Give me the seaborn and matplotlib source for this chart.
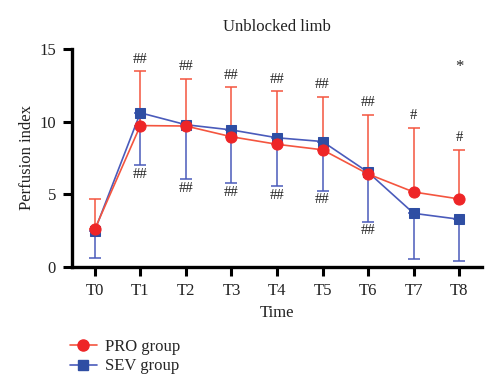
import matplotlib
matplotlib.use("Agg")
import matplotlib.pyplot as plt
import seaborn as sns
import pandas as pd
import numpy as np
from matplotlib.lines import Line2D

times = ["T0", "T1", "T2", "T3", "T4", "T5", "T6", "T7", "T8"]
pro_mean = [2.57, 9.72, 9.69, 8.95, 8.43, 8.05, 6.38, 5.14, 4.66]
pro_upper = [4.66, 13.45, 12.95, 12.35, 12.1, 11.7, 10.45, 9.55, 8.05]
sev_mean = [2.48, 10.6, 9.78, 9.42, 8.88, 8.62, 6.5, 3.67, 3.26]
sev_lower = [0.61, 7.0, 6.02, 5.78, 5.53, 5.23, 3.1, 0.52, 0.38]
pro_marks = ["", "##", "##", "##", "##", "##", "##", "#", "#"]
sev_marks = ["", "##", "##", "##", "##", "##", "##", "", ""]
star_time = "T8"
star_value = 13.75

sns.set_theme(style="ticks")
plt.rcParams['font.family'] = ['Liberation Serif', 'DejaVu Serif']

RED_LINE = "#f4553f"
RED = "#ee2527"
BLUE_LINE = "#4a5bbb"
BLUE = "#2f4ea3"
TXT = "#222222"
FS = 12

fig = plt.figure(figsize=(5, 3.92), dpi=100)
ax = fig.add_axes([0.144, 0.320, 0.820, 0.555])

x = np.arange(len(times))
df = pd.DataFrame({
    "x": np.concatenate([x, x]),
    "value": sev_mean + pro_mean,
    "group": ["SEV group"] * len(times) + ["PRO group"] * len(times),
})

# error bars
sev_err = np.array(sev_mean) - np.array(sev_lower)
ax.errorbar(x, sev_mean, yerr=[sev_err, np.zeros_like(sev_err)], fmt="none",
            ecolor=BLUE_LINE, elinewidth=1.1, capsize=4, capthick=1.1, zorder=2)
pro_err = np.array(pro_upper) - np.array(pro_mean)
ax.errorbar(x, pro_mean, yerr=[np.zeros_like(pro_err), pro_err], fmt="none",
            ecolor=RED_LINE, elinewidth=1.1, capsize=4, capthick=1.1, zorder=2)

sub_sev = df[df.group == "SEV group"]
sns.lineplot(data=sub_sev, x="x", y="value", ax=ax, color=BLUE_LINE, lw=1.2,
             marker="s", markersize=7.2, markerfacecolor=BLUE, markeredgecolor=BLUE,
             legend=False, zorder=3)
sub_pro = df[df.group == "PRO group"]
sns.lineplot(data=sub_pro, x="x", y="value", ax=ax, color=RED_LINE, lw=1.2,
             marker="o", markersize=8, markerfacecolor=RED, markeredgecolor=RED,
             legend=False, zorder=4)

for i, m in enumerate(pro_marks):
    if m:
        ax.annotate(m, (x[i], pro_upper[i]), xytext=(0, 4), textcoords="offset points",
                    ha="center", va="bottom", fontsize=10.5, color=TXT)
for i, m in enumerate(sev_marks):
    if m:
        ax.annotate(m, (x[i], sev_lower[i]), xytext=(0, -2), textcoords="offset points",
                    ha="center", va="top", fontsize=10.5, color=TXT)
ax.text(times.index(star_time), star_value, "*", ha="center", va="center",
        fontsize=12, color=TXT)

ax.set_xlim(-0.5, 8.5)
ax.set_ylim(0, 15)
ax.set_xticks(x)
ax.set_xticklabels(times)
ax.set_yticks([0, 5, 10, 15])
ax.tick_params(axis="both", which="major", length=6.5, width=2.2, labelsize=FS,
               color="black", labelcolor=TXT, direction="out")
ax.tick_params(axis="x", pad=5)
ax.tick_params(axis="y", pad=5)
for s in ["left", "bottom"]:
    ax.spines[s].set_linewidth(2.4)
    ax.spines[s].set_color("black")
sns.despine(ax=ax)
ax.set_xlabel("Time", fontsize=FS, color=TXT, labelpad=5)
ax.set_ylabel("Perfusion index", fontsize=FS, color=TXT, labelpad=3)
ax.set_title("Unblocked limb", fontsize=FS, color=TXT, pad=13)

handles = [
    Line2D([], [], color=RED_LINE, lw=1.2, marker="o", markersize=8,
           markerfacecolor=RED, markeredgecolor=RED),
    Line2D([], [], color=BLUE_LINE, lw=1.2, marker="s", markersize=7.2,
           markerfacecolor=BLUE, markeredgecolor=BLUE),
]
fig.legend(handles, ["PRO group", "SEV group"], loc="upper left",
           bbox_to_anchor=(0.14, 0.136), frameon=False, fontsize=FS,
           handlelength=1.6, handletextpad=0.5, labelspacing=0.22,
           borderpad=0, borderaxespad=0)

fig.savefig("out.png", dpi=100)
